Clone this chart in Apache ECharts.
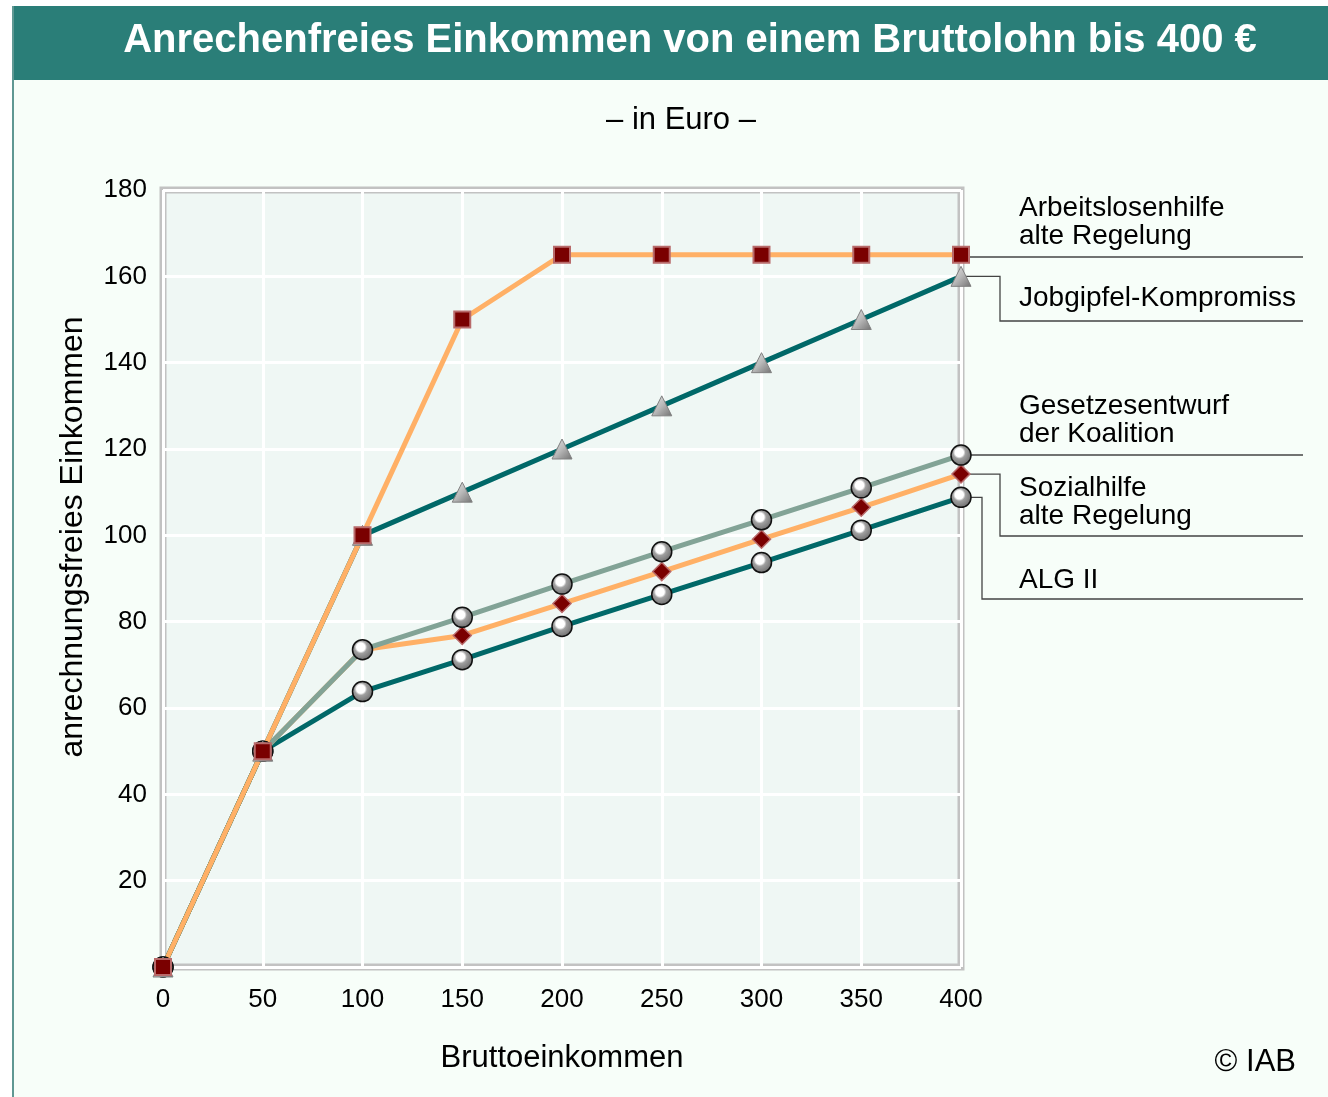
<!DOCTYPE html>
<html>
<head>
<meta charset="utf-8">
<script src="https://cdn.jsdelivr.net/npm/echarts@6/dist/echarts.min.js"></script>
<style>
  html, body { margin: 0; padding: 0; background: #ffffff; }
  #main { width: 1328px; height: 1097px; }
</style>
</head>
<body>
<div id="main"></div>
<script>
// Daten (Euro)
var brutto = [0, 50, 100, 150, 200, 250, 300, 350, 400];
var arbeitslosenhilfe = [0, 50, 100, 150, 165, 165, 165, 165, 165];
var jobgipfel = [0, 50, 100, 110, 120, 130, 140, 150, 160];
var gesetzesentwurf = [0, 50, 73.5, 81, 88.7, 96.2, 103.6, 111, 118.6];
var sozialhilfe = [0, 50, 73.5, 76.8, 84.2, 91.6, 99.1, 106.5, 114.2];
var alg2 = [0, 50, 63.8, 71.2, 78.9, 86.3, 93.7, 101.2, 108.8];
var yTicks = [20, 40, 60, 80, 100, 120, 140, 160, 180];
var xTicks = [0, 50, 100, 150, 200, 250, 300, 350, 400];

function pairs(ys) {
  return brutto.map(function (x, i) { return [x, ys[i]]; });
}

var FONT = 'Liberation Sans, Arial, sans-serif';
var ORANGE = '#ffb066';
var TEAL = '#006868';
var GREYGREEN = '#82a396';

var circleFill = {
  type: 'radial', x: 0.42, y: 0.38, r: 0.65,
  colorStops: [
    { offset: 0, color: '#ffffff' },
    { offset: 0.3, color: '#ffffff' },
    { offset: 0.45, color: '#a0a0a0' },
    { offset: 1, color: '#6a6a6a' }
  ]
};
var triFill = {
  type: 'linear', x: 0, y: 0, x2: 1, y2: 1,
  colorStops: [
    { offset: 0, color: '#e8e8e8' },
    { offset: 0.5, color: '#b8b8b8' },
    { offset: 1, color: '#707070' }
  ]
};

var chart = echarts.init(document.getElementById('main'), null, { renderer: 'canvas' });

var series = [
  {
    name: 'ALG II', type: 'line', data: pairs(alg2),
    lineStyle: { color: TEAL, width: 5 },
    symbol: 'circle', symbolSize: 20,
    itemStyle: { color: circleFill, borderColor: '#111', borderWidth: 1.5 }
  },
  {
    name: 'Sozialhilfe alte Regelung', type: 'line', data: pairs(sozialhilfe),
    lineStyle: { color: ORANGE, width: 5 },
    symbol: 'diamond', symbolSize: 18,
    itemStyle: { color: '#7a0000', borderColor: '#b86a6a', borderWidth: 1.5 }
  },
  {
    name: 'Gesetzesentwurf der Koalition', type: 'line', data: pairs(gesetzesentwurf),
    lineStyle: { color: GREYGREEN, width: 5 },
    symbol: 'circle', symbolSize: 20,
    itemStyle: { color: circleFill, borderColor: '#111', borderWidth: 1.5 }
  },
  {
    name: 'Jobgipfel-Kompromiss', type: 'line', data: pairs(jobgipfel),
    lineStyle: { color: TEAL, width: 5 },
    symbol: 'triangle', symbolSize: 20,
    itemStyle: { color: triFill, borderColor: '#808080', borderWidth: 1 }
  },
  {
    name: 'Arbeitslosenhilfe alte Regelung', type: 'line', data: pairs(arbeitslosenhilfe),
    lineStyle: { color: ORANGE, width: 5 },
    symbol: 'rect', symbolSize: 16,
    itemStyle: { color: '#7a0000', borderColor: '#b86a6a', borderWidth: 2 }
  }
];

var option = {
  animation: false,
  backgroundColor: '#ffffff',
  textStyle: { fontFamily: FONT },
  grid: {
    left: 163, right: 367, top: 190, bottom: 130,
    show: true,
    backgroundColor: '#eff7f4',
    borderColor: '#c2c2c2',
    borderWidth: 7
  },
  xAxis: {
    type: 'value', min: 0, max: 400, interval: 50,
    name: 'Bruttoeinkommen', nameLocation: 'middle', nameGap: 76,
    nameTextStyle: { fontSize: 31, color: '#000', fontFamily: FONT },
    axisLine: { show: false },
    axisTick: { show: false },
    axisLabel: { fontSize: 26, color: '#000', margin: 20, fontFamily: FONT },
    splitLine: { show: true, lineStyle: { color: '#ffffff', width: 3 } }
  },
  yAxis: {
    type: 'value', min: 0, max: 180, interval: 20,
    axisLine: { show: false },
    axisTick: { show: false },
    axisLabel: {
      fontSize: 26, color: '#000', margin: 16, fontFamily: FONT,
      formatter: function (v) { return yTicks.indexOf(v) >= 0 ? String(v) : ''; }
    },
    splitLine: { show: true, lineStyle: { color: '#ffffff', width: 3 } }
  },
  series: series
};

chart.setOption(option);

// Rahmen, Titel und Beschriftungen
var graphics = [
  { type: 'rect', z: -10, silent: true, shape: { x: 12, y: 6, width: 1316, height: 1091 },
    style: { fill: '#f7fef9' } },
  { type: 'rect', z: 100, silent: true, shape: { x: 12, y: 6, width: 1316, height: 74 },
    style: { fill: '#2a7e78' } },
  { type: 'rect', z: 100, silent: true, shape: { x: 12, y: 6, width: 2, height: 1091 },
    style: { fill: '#5f9893' } },
  { type: 'text', z: 101, silent: true, x: 690, y: 41,
    style: { text: 'Anrechenfreies Einkommen von einem Bruttolohn bis 400 €', fill: '#ffffff',
      font: 'bold 40px ' + FONT, align: 'center', verticalAlign: 'middle' } },
  { type: 'text', z: 101, silent: true, x: 681, y: 120,
    style: { text: '– in Euro –', fill: '#000', font: '31px ' + FONT, align: 'center', verticalAlign: 'middle' } },
  { type: 'text', z: 101, silent: true, x: 73, y: 537, rotation: Math.PI / 2,
    style: { text: 'anrechnungsfreies Einkommen', fill: '#000', font: '32px ' + FONT,
      align: 'center', verticalAlign: 'middle' } },
  { type: 'text', z: 101, silent: true, x: 1296, y: 1062,
    style: { text: '© IAB', fill: '#000', font: '31px ' + FONT, align: 'right', verticalAlign: 'middle' } }
];

// Beschriftung rechts: Serienindex, Knick-x, Linien-y, Textzeilen, Text-y
var labels = [
  { s: 4, elbow: null, lineY: 257, text: 'Arbeitslosenhilfe\nalte Regelung', textY: 222 },
  { s: 3, elbow: 1000, lineY: 321, text: 'Jobgipfel-Kompromiss', textY: 298 },
  { s: 2, elbow: null, lineY: 455, text: 'Gesetzesentwurf\nder Koalition', textY: 420 },
  { s: 1, elbow: 1000, lineY: 536, text: 'Sozialhilfe\nalte Regelung', textY: 502 },
  { s: 0, elbow: 982, lineY: 599, text: 'ALG II', textY: 580 }
];
var lineEnd = 1303;
labels.forEach(function (l) {
  var d = series[l.s].data;
  var last = d[d.length - 1];
  var p = chart.convertToPixel({ gridIndex: 0 }, last);
  var pts;
  if (l.elbow === null) {
    pts = [[p[0], l.lineY], [lineEnd, l.lineY]];
  } else {
    pts = [[p[0], p[1]], [l.elbow, p[1]], [l.elbow, l.lineY], [lineEnd, l.lineY]];
  }
  graphics.push({
    type: 'polyline', z: 1, silent: true,
    shape: { points: pts },
    style: { stroke: '#444', lineWidth: 1.3, fill: null }
  });
  graphics.push({
    type: 'text', z: 101, silent: true, x: 1019, y: l.textY,
    style: { text: l.text, fill: '#000', font: '28px ' + FONT, lineHeight: 28,
      align: 'left', verticalAlign: 'middle' }
  });
});

chart.setOption({ graphic: graphics });
</script>
</body>
</html>
